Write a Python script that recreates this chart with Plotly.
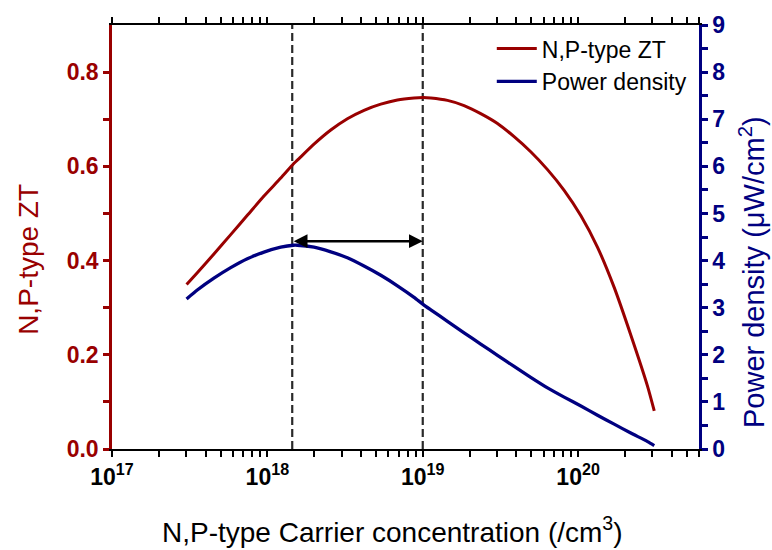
import plotly.graph_objects as go

# Data (carrier concentration given as log10 of /cm^3)
zt_log_n = [17.480, 17.549, 17.656, 17.764, 17.871, 17.978, 18.086, 18.167, 18.193, 18.300,
            18.408, 18.515, 18.622, 18.730, 18.837, 18.944, 19.004, 19.052, 19.159, 19.266,
            19.373, 19.481, 19.588, 19.695, 19.803, 19.910, 20.018, 20.125, 20.232, 20.339,
            20.447, 20.490]
zt_val = [0.349, 0.374, 0.414, 0.455, 0.496, 0.537, 0.575, 0.605, 0.613, 0.647,
          0.677, 0.701, 0.719, 0.732, 0.741, 0.745, 0.746, 0.745, 0.740, 0.729,
          0.712, 0.691, 0.663, 0.631, 0.593, 0.549, 0.495, 0.428, 0.343, 0.242,
          0.133, 0.081]

pd_log_n = [17.480, 17.549, 17.656, 17.764, 17.871, 17.978, 18.086, 18.167, 18.193, 18.300,
            18.408, 18.515, 18.622, 18.730, 18.837, 18.944, 19.004, 19.052, 19.159, 19.266,
            19.373, 19.481, 19.588, 19.695, 19.803, 19.910, 20.018, 20.125, 20.232, 20.339,
            20.447, 20.490]
pd_val = [3.185, 3.374, 3.626, 3.849, 4.038, 4.178, 4.283, 4.325, 4.325, 4.283,
          4.185, 4.059, 3.884, 3.688, 3.465, 3.220, 3.066, 2.954, 2.710, 2.465,
          2.227, 1.989, 1.752, 1.521, 1.297, 1.101, 0.913, 0.717, 0.528, 0.339,
          0.157, 0.073]

vlines_log_n = [18.16, 19.0]
arrow_y = 4.41

x_log_range = [17.0, 20.778]
x_tick_exp = [17, 18, 19, 20]
y1_ticks = [0.0, 0.2, 0.4, 0.6, 0.8]
y1_minor = [0.1, 0.3, 0.5, 0.7]
y2_ticks = list(range(0, 10))
y2_minor = [0.5, 1.5, 2.5, 3.5, 4.5, 5.5, 6.5, 7.5, 8.5]

zt_n = [10.0 ** v for v in zt_log_n]
pd_n = [10.0 ** v for v in pd_log_n]
x_major = [10.0 ** e for e in x_tick_exp]
x_minor = [float(m) * 10.0 ** e for e in range(17, 21) for m in range(2, 10)
           if m * 10.0 ** e <= 10.0 ** x_log_range[1] * 1.001]
x_tickvals = x_major + x_minor
x_ticktext = ["10<sup>%d</sup>" % e for e in x_tick_exp] + [""] * len(x_minor)

y1_tickvals = y1_ticks + y1_minor
y1_ticktext = ["%.1f" % v for v in y1_ticks] + [""] * len(y1_minor)
y2_tickvals = y2_ticks + y2_minor
y2_ticktext = ["%d" % v for v in y2_ticks] + [""] * len(y2_minor)

RED = "#990000"
BLUE = "#000080"
FONT = "Liberation Sans, Arial, sans-serif"

fig = go.Figure()

for lv in vlines_log_n:
    n = 10.0 ** lv
    fig.add_trace(go.Scatter(x=[n, n], y=[0, 0.9], mode="lines", showlegend=False,
                             line=dict(color="#2a2a2a", width=2.2, dash="8px,4px"),
                             hoverinfo="skip"))

fig.add_trace(go.Scatter(x=zt_n, y=zt_val, mode="lines", name="N,P-type ZT",
                         line=dict(color=RED, width=3, shape="spline", smoothing=0.6)))
fig.add_trace(go.Scatter(x=pd_n, y=pd_val, mode="lines", name="Power density", yaxis="y2",
                         line=dict(color=BLUE, width=3.3, shape="spline", smoothing=0.6)))

fig.add_annotation(x=vlines_log_n[1], y=arrow_y, xref="x", yref="y2",
                   ax=vlines_log_n[0], ay=arrow_y, axref="x", ayref="y2",
                   showarrow=True, arrowhead=2, arrowside="end+start", arrowsize=1.1,
                   arrowwidth=2.5, arrowcolor="black", text="")

# axis titles
fig.add_annotation(text="N,P-type Carrier concentration (/cm<sup>3</sup>)", xref="paper", yref="paper",
                   x=0.478, y=-0.191, xanchor="center", yanchor="middle", showarrow=False,
                   font=dict(size=28, family=FONT, color="black"))
fig.add_annotation(text="N,P-type ZT", xref="paper", yref="paper", textangle=-90,
                   x=-0.142, y=0.4476, xanchor="center", yanchor="middle", showarrow=False,
                   font=dict(size=28, family=FONT, color=RED))
fig.add_annotation(text="Power density (μW/cm<sup>2</sup>)", xref="paper", yref="paper", textangle=-90,
                   x=1.090, y=0.417, xanchor="center", yanchor="middle", showarrow=False,
                   font=dict(size=29, family=FONT, color=BLUE))

fig.update_layout(
    width=772, height=550,
    margin=dict(l=112, r=73, t=20, b=101),
    plot_bgcolor="white", paper_bgcolor="white",
    font=dict(family=FONT, color="black"),
    showlegend=True,
    legend=dict(x=0.647, y=0.995, xanchor="left", yanchor="top",
                font=dict(size=23, family=FONT, color="black"),
                bgcolor="rgba(0,0,0,0)", tracegroupgap=0, itemwidth=40),
    xaxis=dict(type="log", range=x_log_range, tickmode="array",
               tickvals=x_tickvals, ticktext=x_ticktext,
               ticks="outside", ticklen=6, tickwidth=2, tickcolor="black",
               showline=True, linecolor="black", linewidth=2, mirror="allticks",
               showgrid=False, zeroline=False,
               tickfont=dict(size=23, family=FONT, color="black", weight="bold")),
    yaxis=dict(range=[0, 0.9], tickmode="array", tickvals=y1_tickvals, ticktext=y1_ticktext,
               ticks="outside", ticklen=6, tickwidth=2.5, tickcolor=RED,
               showline=True, linecolor=RED, linewidth=2.5, showgrid=False, zeroline=False,
               tickfont=dict(size=23, family=FONT, color=RED, weight="bold")),
    yaxis2=dict(range=[0, 9], overlaying="y", side="right", anchor="x", tickmode="array",
                tickvals=y2_tickvals, ticktext=y2_ticktext,
                ticks="outside", ticklen=6, tickwidth=2.5, tickcolor=BLUE,
                showline=True, linecolor=BLUE, linewidth=2.5, showgrid=False, zeroline=False,
                tickfont=dict(size=23, family=FONT, color=BLUE, weight="bold")),
)

fig.write_html("out.html")
